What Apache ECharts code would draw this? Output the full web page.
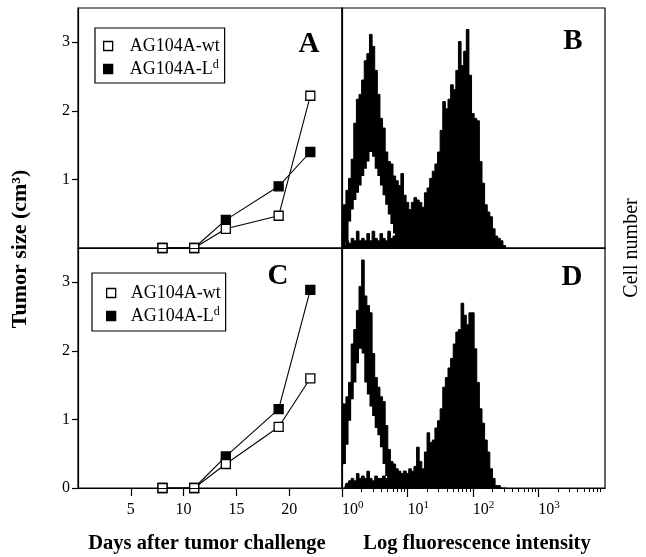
<!DOCTYPE html>
<html><head><meta charset="utf-8">
<script src="https://cdn.jsdelivr.net/npm/echarts@6/dist/echarts.min.js"></script>
<style>html,body{margin:0;padding:0;background:#fff}#c{width:646px;height:557px}</style>
</head><body><div id="c"></div>
<script>
// ---- Tumor growth panels (A, C) ----
const days = [8, 11, 14, 19, 22];
const wtA = [0, 0, 0.28, 0.47, 2.22];
const ldA = [0, 0, 0.41, 0.90, 1.40];
const wtC = [0, 0, 0.35, 0.89, 1.60];
const ldC = [0, 0, 0.46, 1.15, 2.89];
const dayTicks = [5, 10, 15, 20];
const sizeTicksA = [1, 2, 3];
const sizeTicksC = [0, 1, 2, 3];
const seriesNames = ['AG104A-wt', 'AG104A-Ld'];

// ---- Flow cytometry panels (B, D): counts per bin, bins in log10 units ----
const binStart = 0, binWidth = 0.04;
const decadeTicks = [0, 1, 2, 3];
const minorMultipliers = [2, 3, 4, 5, 6, 7, 8, 9];
const openHiB = [3,18,24,29,37,52,62,64,70,78,81,89,84,74,64,54,50,40,36,35,30,28,26,31,22,19,14,11,8,5,3,1];
const openLoB = [0,0,3,11,16,20,23,26,30,33,36,40,38,33,30,26,22,18,14,10,6,3,1,0];
const filledB = [0,1,3,2,4,3,7,3,4,3, 6,3,7,4,3,6,4,3,7,4, 5,8,10,12,14,13,16,19,21,20,
                 19,17,23,25,29,32,35,40,49,61, 58,62,68,66,74,86,76,82,91,72, 56,54,53,36,27,18,15,13,8,5, 4,3,1,0];
const openHiD = [36,35,38,44,60,66,74,84,95,80,76,73,56,46,42,38,36,26,16,11,10,8,7,6,7,6,5,6,4,3,2,0];
const openLoD = [6,10,18,28,37,44,52,58,56,44,39,34,30,25,22,17,10,5,1,0];
const filledD = [0,0,2,3,4,3,6,4,5,4, 7,4,3,5,4,4,5,4,6,5, 7,5,6,5,7,6,8,7,9,17,
                 11,8,15,23,19,20,25,28,33,42, 46,50,54,60,65,66,77,72,68,73, 73,58,44,33,27,20,15,8,4,1, 1,0,0,0];

const FONT = '"Liberation Serif", "Times New Roman", serif';
const chart = echarts.init(document.getElementById('c'), null, {renderer: 'canvas'});

const minorTicks = [];
decadeTicks.forEach(k => minorMultipliers.forEach(m => minorTicks.push(k + Math.log10(m))));
const bins = arr => arr.map((v, i) => [binStart + i * binWidth, v]);
const pts = (ys) => days.map((d, i) => [d, ys[i]]);

const gridBase = {show: true, borderColor: '#000', borderWidth: 1.2, backgroundColor: 'transparent', containLabel: false, outerBoundsMode: 'none'};
const grids = [
  Object.assign({left: 78, top: 8, width: 264, height: 240}, gridBase),   // A
  Object.assign({left: 78, top: 248, width: 264, height: 240}, gridBase), // C
  Object.assign({left: 342, top: 8, width: 263, height: 240}, gridBase),  // B
  Object.assign({left: 342, top: 248, width: 263, height: 240}, gridBase) // D
];

const lineAx = {show: true, lineStyle: {color: '#000', width: 1.2}};
const noSplit = {show: false};
const lbl = {color: '#000', fontFamily: FONT, fontSize: 16};

const xAxes = [
  {gridIndex: 0, type: 'value', min: 0, max: 25, axisLine: lineAx, axisTick: {show: false}, axisLabel: {show: false}, splitLine: noSplit, z: 5},
  {gridIndex: 1, type: 'value', min: 0, max: 25, axisLine: lineAx,
   axisTick: {show: true, inside: false, length: 8, customValues: dayTicks, lineStyle: {color: '#000', width: 1.2}},
   axisLabel: Object.assign({customValues: dayTicks, margin: 14}, lbl), splitLine: noSplit, z: 5},
  {gridIndex: 2, type: 'value', min: 0, max: 4.02, axisLine: lineAx, axisTick: {show: false}, axisLabel: {show: false}, splitLine: noSplit, z: 5},
  {gridIndex: 3, type: 'value', min: 0, max: 4.02, axisLine: lineAx,
   axisTick: {show: true, inside: false, length: 9, customValues: decadeTicks, lineStyle: {color: '#000', width: 1.2}},
   axisLabel: Object.assign({customValues: decadeTicks, margin: 12, align: 'left',
     formatter: v => '{b|10}{s|' + Math.round(v) + '}',
     rich: {b: {fontFamily: FONT, fontSize: 16, color: '#000', lineHeight: 18, verticalAlign: 'bottom'},
            s: {fontFamily: FONT, fontSize: 11, color: '#000', lineHeight: 18, verticalAlign: 'top', padding: [0, 0, 6, 0]}}}, lbl),
   splitLine: noSplit, z: 5},
  {gridIndex: 3, type: 'value', min: 0, max: 4.02, position: 'bottom', offset: 0, axisLine: {show: false},
   axisTick: {show: true, inside: false, length: 4, customValues: minorTicks, lineStyle: {color: '#000', width: 1}},
   axisLabel: {show: false}, splitLine: noSplit, z: 5}
];

const yAxes = [
  {gridIndex: 0, type: 'value', min: 0, max: 3.5, axisLine: lineAx,
   axisTick: {show: true, length: 6, customValues: sizeTicksA, lineStyle: {color: '#000', width: 1.2}},
   axisLabel: Object.assign({customValues: sizeTicksA, margin: 8}, lbl), splitLine: noSplit, z: 5},
  {gridIndex: 1, type: 'value', min: 0, max: 3.5, axisLine: lineAx,
   axisTick: {show: true, length: 6, customValues: sizeTicksC, lineStyle: {color: '#000', width: 1.2}},
   axisLabel: Object.assign({customValues: sizeTicksC, margin: 8}, lbl), splitLine: noSplit, z: 5},
  {gridIndex: 2, type: 'value', min: 0, max: 100, axisLine: lineAx, axisTick: {show: false}, axisLabel: {show: false}, splitLine: noSplit, z: 5},
  {gridIndex: 3, type: 'value', min: 0, max: 100, axisLine: lineAx, axisTick: {show: false}, axisLabel: {show: false}, splitLine: noSplit, z: 5}
];

function growth(name, xi, ys, fill) {
  return {name: name, type: 'line', xAxisIndex: xi, yAxisIndex: xi, data: pts(ys),
    symbol: 'rect', symbolSize: 9, clip: false,
    itemStyle: {color: fill, borderColor: '#000', borderWidth: 1.3},
    lineStyle: {color: '#000', width: 1.1}, emphasis: {disabled: true}};
}
function hist(ax, arr, color, lw) {
  return {type: 'line', xAxisIndex: ax, yAxisIndex: ax, data: bins(arr), step: 'middle',
    symbol: 'none', silent: true,
    lineStyle: {color: '#000', width: lw}, areaStyle: {color: color, opacity: 1}, emphasis: {disabled: true}};
}

function legendFor(gi, left, top, pad) {
  return {
    show: true, orient: 'vertical', left: left, top: top, padding: pad, itemGap: 4,
    itemWidth: 9, itemHeight: 9, icon: 'rect', selectedMode: false,
    borderColor: '#000', borderWidth: 1.2, backgroundColor: '#fff',
    data: [
      {name: seriesNames[0], itemStyle: {color: '#fff', borderColor: '#000', borderWidth: 1.3}},
      {name: seriesNames[1], itemStyle: {color: '#000', borderColor: '#000', borderWidth: 1.3}}
    ],
    formatter: n => n === seriesNames[0] ? '{t|AG104A-wt}' : '{t|AG104A-L}{s|d}',
    textStyle: {color: '#000', fontFamily: FONT, fontSize: 18,
      rich: {t: {fontFamily: FONT, fontSize: 18, color: '#000', lineHeight: 20, padding: [0, 0, 0, gi === 0 ? 12 : 10]},
             s: {fontFamily: FONT, fontSize: 12, color: '#000', lineHeight: 12, verticalAlign: 'top'}}}
  };
}

function txt(x, y, text, font, rot) {
  return {type: 'text', x: x, y: y, rotation: rot || 0, silent: true,
    style: {text: text, font: font, fill: '#000', align: 'center', verticalAlign: 'middle'}, z: 10};
}

chart.setOption({
  animation: false,
  backgroundColor: '#fff',
  textStyle: {fontFamily: FONT},
  grid: grids,
  xAxis: xAxes,
  yAxis: yAxes,
  legend: [legendFor(0, 95, 28, [9, 5, 5, 8]), legendFor(1, 92, 273, [11, 5, 6, 14])],
  series: [
    growth(seriesNames[1], 0, ldA, '#000'),
    growth(seriesNames[0], 0, wtA, '#fff'),
    growth(seriesNames[1], 1, ldC, '#000'),
    growth(seriesNames[0], 1, wtC, '#fff'),
    hist(2, openHiB, '#000', 1), hist(2, openLoB, '#fff', 0), hist(2, filledB, '#000', 1),
    hist(3, openHiD, '#000', 1), hist(3, openLoD, '#fff', 0), hist(3, filledD, '#000', 1)
  ],
  graphic: [
    txt(309, 45, 'A', 'bold 29px ' + FONT),
    txt(573, 42, 'B', 'bold 29px ' + FONT),
    txt(278, 277, 'C', 'bold 29px ' + FONT),
    txt(572, 278, 'D', 'bold 29px ' + FONT),
    txt(20, 249, 'Tumor size (cm³)', 'bold 22px ' + FONT, Math.PI / 2),
    txt(632, 248, 'Cell number', '20px ' + FONT, Math.PI / 2),
    txt(207, 544, 'Days after tumor challenge', 'bold 20.5px ' + FONT),
    txt(477, 544, 'Log fluorescence intensity', 'bold 20.5px ' + FONT)
  ]
});
</script></body></html>
